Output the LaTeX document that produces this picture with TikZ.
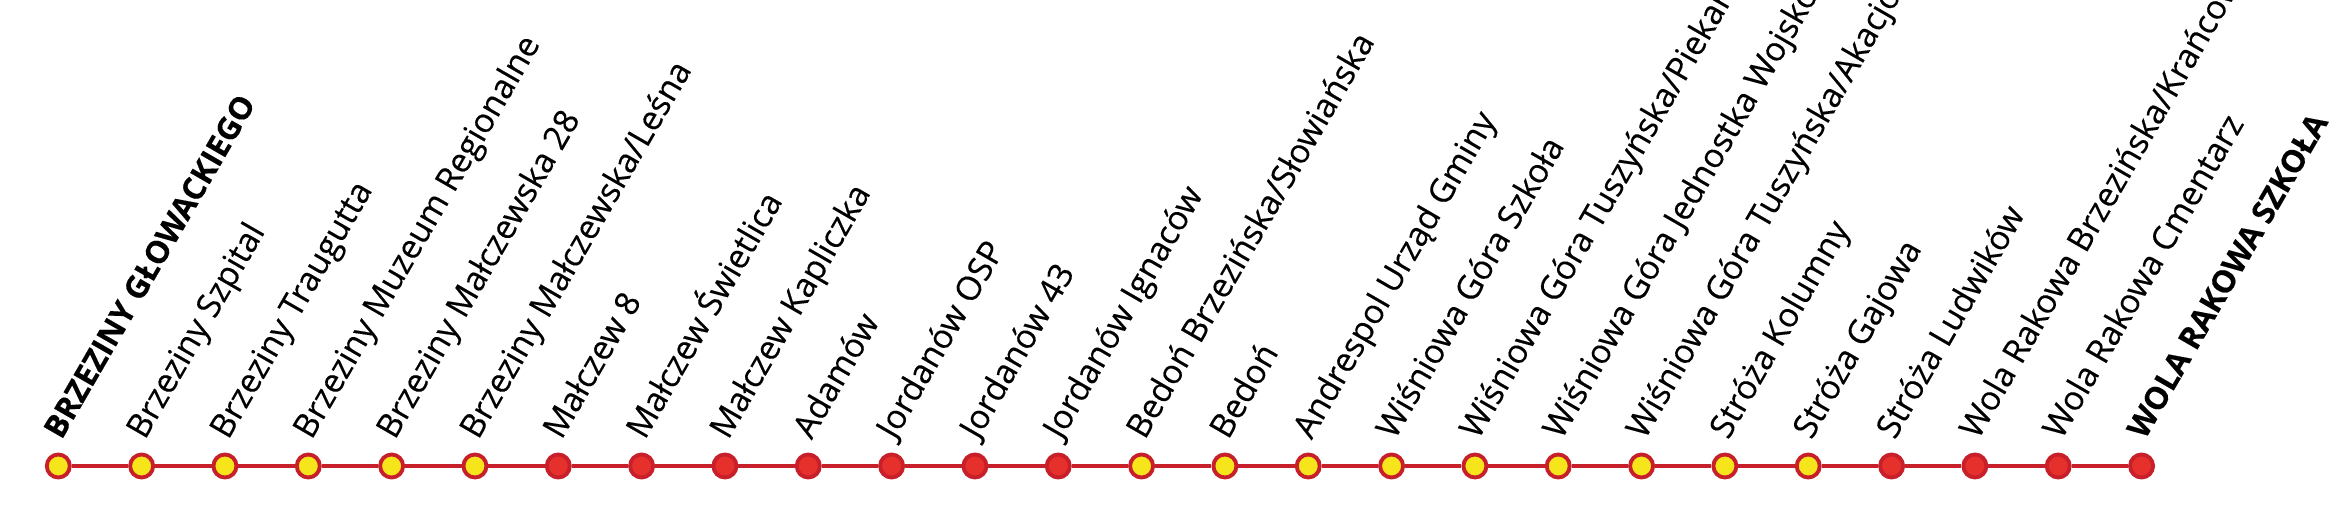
\documentclass[tikz,border=0pt]{standalone}
\usepackage{fontspec}
\setmainfont{Open Sans}
\newfontfamily\stopfont{Open Sans}[FakeBold=0.35]
\usepackage{tikz}
\definecolor{routered}{HTML}{C8202A}
\definecolor{stopred}{HTML}{E6302B}
\definecolor{stopyellow}{HTML}{F7E51C}
\newcommand{\terminalname}[1]{{\fontsize{8.9}{10}\selectfont\bfseries #1}}
\tikzset{
    stopy/.style={circle, draw=routered, line width=1.1pt, fill=stopyellow, minimum size=0.23cm, inner sep=0pt},
    stopr/.style={circle, draw=routered, line width=1.1pt, fill=stopred, minimum size=0.23cm, inner sep=0pt},
    routeline/.style={draw=routered, line width=1.15pt},
    stopname/.style={rotate=60, anchor=base west, inner sep=0pt, font=\stopfont\fontsize{9.5}{11}\selectfont}
}

\begin{document}
\begin{tikzpicture}[x=0.01cm, y=0.01cm]
    \useasboundingbox (0,0) rectangle (2345,521);
    \clip (0,0) rectangle (2345,521);
    % Draw stops and their names
    \foreach \name/\kind [count=\i] in {
        {\terminalname{BRZEZINY GŁOWACKIEGO}}/y, {Brzeziny Szpital}/y, {Brzeziny Traugutta}/y,
        {Brzeziny Muzeum Regionalne}/y, {Brzeziny Małczewska 28}/y, {Brzeziny Małczewska/Leśna}/y,
        {Małczew 8}/r, {Małczew Świetlica}/r, {Małczew Kapliczka}/r, {Adamów}/r,
        {Jordanów OSP}/r, {Jordanów 43}/r, {Jordanów Ignaców}/r,
        {Bedoń Brzezińska/Słowiańska}/y, {Bedoń}/y, {Andrespol Urząd Gminy}/y,
        {Wiśniowa Góra Szkoła}/y, {Wiśniowa Góra Tuszyńska/Piekarnia}/y,
        {Wiśniowa Góra Jednostka Wojskowa}/y, {Wiśniowa Góra Tuszyńska/Akacjowa}/y,
        {Stróża Kolumny}/y, {Stróża Gajowa}/y, {Stróża Ludwików}/r,
        {Wola Rakowa Brzezińska/Krańcowa}/r, {Wola Rakowa Cmentarz}/r,
        {\terminalname{WOLA RAKOWA SZKOŁA}}/r} {
        \node [stop\kind] (s\i) at ({58.3+83.33*(\i-1)}, 55) {};
        \node [stopname] (n\i) at ({61.3+83.33*(\i-1)}, 80) {\name};
    }
    % Draw route line between stops
    \foreach \i [evaluate=\i as \j using int(\i+1)] in {1,...,25}
        \draw [routeline] (s\i) -- (s\j);
\end{tikzpicture}
\end{document}
